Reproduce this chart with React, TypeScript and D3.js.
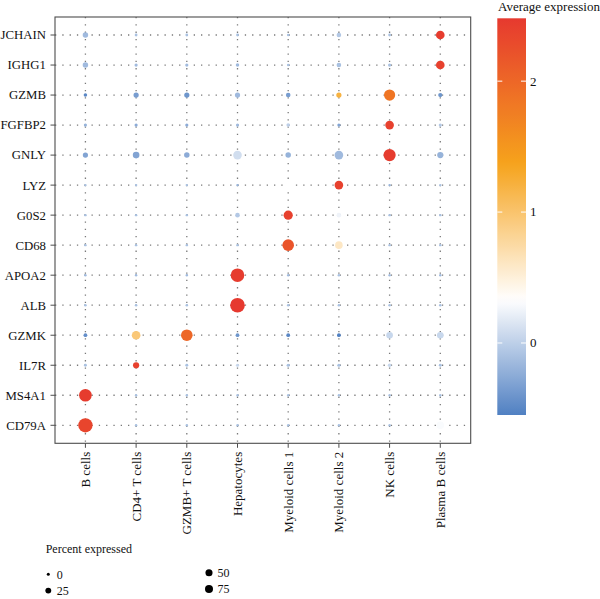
import React from "react";
import * as d3 from "d3";

// cluster labels along the x axis
const clusters = [
  "B cells",
  "CD4+ T cells",
  "GZMB+ T cells",
  "Hepatocytes",
  "Myeloid cells 1",
  "Myeloid cells 2",
  "NK cells",
  "Plasma B cells",
];

// marker genes, bottom to top
const genes = [
  "CD79A", "MS4A1", "IL7R", "GZMK", "ALB", "APOA2", "CD68",
  "G0S2", "LYZ", "GNLY", "FGFBP2", "GZMB", "IGHG1", "JCHAIN",
];

// percent of cells expressing each gene, one row per gene (same order as genes)
const pctCD79A = [80, 0.2, 0.2, 0.2, 0.2, 0.2, 0.2, 17];
const pctMS4A1 = [60, 0.2, 0.2, 0.2, 0.2, 0.2, 0.2, 0.2];
const pctIL7R = [0.7, 10, 0.7, 1, 1, 1, 1.6, 0.7];
const pctGZMK = [2, 24, 49, 2, 2, 2, 12, 12];
const pctALB = [0.3, 0.3, 0.3, 84, 0.3, 0.3, 0.3, 0.3];
const pctAPOA2 = [0.2, 0.2, 0.2, 71, 0.2, 0.3, 0.2, 0.2];
const pctCD68 = [0.2, 0.2, 0.2, 0.2, 49, 17, 0.2, 0.2];
const pctG0S2 = [0.2, 0.2, 0.2, 4, 28, 4, 0.2, 0.2];
const pctLYZ = [0.2, 0.2, 0.2, 0.2, 20, 24, 0.2, 0.2];
const pctGNLY = [6, 12, 7, 24, 7, 24, 55, 10];
const pctFGFBP2 = [1, 1, 1, 1, 1.6, 1, 24, 1];
const pctGZMB = [1.6, 6, 6, 6, 4, 6, 45, 3];
const pctIGHG1 = [7, 1, 1, 1.5, 0.3, 4, 1, 24];
const pctJCHAIN = [7, 0.5, 0.5, 0.5, 0.3, 4, 0.5, 24];

// scaled average expression, same layout
const avgCD79A = [2.35, -0.1, -0.1, -0.1, -0.1, -0.1, -0.1, 0.3];
const avgMS4A1 = [2.45, -0.1, -0.1, -0.1, -0.1, -0.1, -0.1, -0.1];
const avgIL7R = [-0.1, 2.4, -0.1, 0.05, -0.1, -0.1, 0.05, -0.1];
const avgGZMK = [-0.45, 0.95, 2.0, -0.4, -0.5, -0.55, 0.05, 0.05];
const avgALB = [-0.1, -0.1, -0.1, 2.48, -0.1, -0.1, -0.1, -0.1];
const avgAPOA2 = [-0.15, -0.15, -0.15, 2.45, -0.15, -0.1, -0.15, -0.15];
const avgCD68 = [-0.1, -0.1, -0.1, -0.1, 2.2, 0.6, -0.1, -0.1];
const avgG0S2 = [-0.1, -0.1, -0.1, -0.05, 2.4, 0.25, -0.1, -0.1];
const avgLYZ = [-0.1, -0.1, -0.1, -0.2, 0.33, 2.4, -0.2, -0.1];
const avgGNLY = [-0.3, -0.3, -0.25, 0.1, -0.2, -0.15, 2.45, -0.2];
const avgFGFBP2 = [-0.2, -0.25, -0.25, -0.15, 0.0, -0.3, 2.4, -0.05];
const avgGZMB = [-0.5, -0.35, -0.4, -0.15, -0.35, 1.2, 1.85, -0.4];
const avgIGHG1 = [-0.15, -0.15, -0.15, -0.15, -0.1, -0.1, -0.1, 2.4];
const avgJCHAIN = [-0.15, -0.1, -0.1, -0.1, -0.1, -0.05, -0.1, 2.45];

const pctRows = [
  pctCD79A, pctMS4A1, pctIL7R, pctGZMK, pctALB, pctAPOA2, pctCD68,
  pctG0S2, pctLYZ, pctGNLY, pctFGFBP2, pctGZMB, pctIGHG1, pctJCHAIN,
];
const avgRows = [
  avgCD79A, avgMS4A1, avgIL7R, avgGZMK, avgALB, avgAPOA2, avgCD68,
  avgG0S2, avgLYZ, avgGNLY, avgFGFBP2, avgGZMB, avgIGHG1, avgJCHAIN,
];

const colorTicks = [0, 1, 2];
const sizeBreaks = [0, 25, 50, 75];

const serif = { fontFamily: "'Liberation Serif', 'DejaVu Serif', serif" };

export default function App() {
  const left = 55;
  const right = 470.7;
  const top = 17;
  const bottom = 443.3;

  const x = d3.scalePoint<string>().domain(clusters).range([left, right]).padding(0.6);
  const y = d3.scalePoint<string>().domain(genes).range([bottom, top]).padding(0.6);

  const cells = genes.flatMap((g, gi) =>
    clusters.map((c, ci) => ({
      gene: g,
      cluster: c,
      pct: pctRows[gi][ci],
      avg: avgRows[gi][ci],
    }))
  );

  const [vmin, vmax] = d3.extent(cells, (d) => d.avg) as [number, number];

  const color = d3
    .scaleLinear<string>()
    .domain([vmin, 0.33, 1.37, vmax])
    .range(["#5080c2", "#ffffff", "#f6a31c", "#e6392f"])
    .interpolate(d3.interpolateRgb)
    .clamp(true);

  const r = d3.scaleSqrt().domain([0, 100]).range([0.9, 7.9]);
  const rLegend = d3.scaleSqrt().domain([0, 100]).range([1.5, 4.4]);

  // colour bar geometry
  const barX = 497.3;
  const barW = 28.7;
  const barTop = 18.3;
  const barBottom = 415;
  const barY = d3.scaleLinear().domain([vmin, vmax]).range([barBottom, barTop]);
  const gradStops = d3.range(0, 1.0001, 0.02).map((t) => ({
    t,
    c: color(vmin + t * (vmax - vmin)),
  }));

  return (
    <svg
      width={600}
      height={599}
      style={{ position: "absolute", left: 0, top: 0, background: "#fff", ...serif }}
    >
      <defs>
        <linearGradient id="avgGrad" x1="0" y1="1" x2="0" y2="0">
          {gradStops.map((s) => (
            <stop key={s.t} offset={s.t} stopColor={s.c} />
          ))}
        </linearGradient>
      </defs>

      {/* dotted grid */}
      <g stroke="#7a7a7a" strokeWidth={1.3} strokeDasharray="1.3 6" fill="none">
        {genes.map((g) => (
          <line key={g} x1={left} x2={right} y1={y(g)} y2={y(g)} />
        ))}
        {clusters.map((c) => (
          <line key={c} y1={top} y2={bottom} x1={x(c)} x2={x(c)} />
        ))}
      </g>

      {/* dots */}
      <g>
        {cells.map((d) => (
          <circle
            key={d.gene + d.cluster}
            cx={x(d.cluster)}
            cy={y(d.gene)}
            r={r(d.pct)}
            fill={color(d.avg)}
          />
        ))}
      </g>

      {/* panel border */}
      <rect
        x={left}
        y={top}
        width={right - left}
        height={bottom - top}
        fill="none"
        stroke="#4d4d4d"
        strokeWidth={1.1}
      />

      {/* y axis */}
      <g fontSize={12.8} fill="#111" style={serif}>
        {genes.map((g) => (
          <g key={g}>
            <line x1={left - 4.5} x2={left} y1={y(g)} y2={y(g)} stroke="#4d4d4d" strokeWidth={1} />
            <text x={left - 9} y={(y(g) as number) + 4.4} textAnchor="end" style={serif}>
              {g}
            </text>
          </g>
        ))}
      </g>

      {/* x axis */}
      <g fontSize={13} fill="#111" style={serif}>
        {clusters.map((c) => {
          const cx = x(c) as number;
          return (
            <g key={c}>
              <line x1={cx} x2={cx} y1={bottom} y2={bottom + 4.5} stroke="#4d4d4d" strokeWidth={1} />
              <text
                transform={`translate(${cx + 4.4},${bottom + 8.5}) rotate(-90)`}
                textAnchor="end"
                style={serif}
              >
                {c}
              </text>
            </g>
          );
        })}
      </g>

      {/* colour bar legend */}
      <text x={498} y={11} fontSize={13} fill="#111" style={serif}>
        Average expression
      </text>
      <rect x={barX} y={barTop} width={barW} height={barBottom - barTop} fill="url(#avgGrad)" />
      {colorTicks.map((t) => (
        <g key={t}>
          <line x1={barX} x2={barX + 5} y1={barY(t)} y2={barY(t)} stroke="#fff" strokeWidth={1} />
          <line x1={barX + barW - 5} x2={barX + barW} y1={barY(t)} y2={barY(t)} stroke="#fff" strokeWidth={1} />
          <text x={barX + barW + 4} y={barY(t) + 4.4} fontSize={13} fill="#111" style={serif}>
            {t}
          </text>
        </g>
      ))}

      {/* size legend */}
      <text x={45.7} y={553} fontSize={12} fill="#111" style={serif}>
        Percent expressed
      </text>
      {sizeBreaks.map((b, i) => {
        const col = Math.floor(i / 2);
        const row = i % 2;
        const lx = col === 0 ? 48.3 : 209;
        const ly = (col === 0 ? 574.3 : 572.7) + row * 16.3;
        return (
          <g key={b}>
            <circle cx={lx} cy={ly} r={rLegend(b)} fill="#000" />
            <text x={lx + 8.5} y={ly + 4.2} fontSize={12} fill="#111" style={serif}>
              {b}
            </text>
          </g>
        );
      })}
    </svg>
  );
}
